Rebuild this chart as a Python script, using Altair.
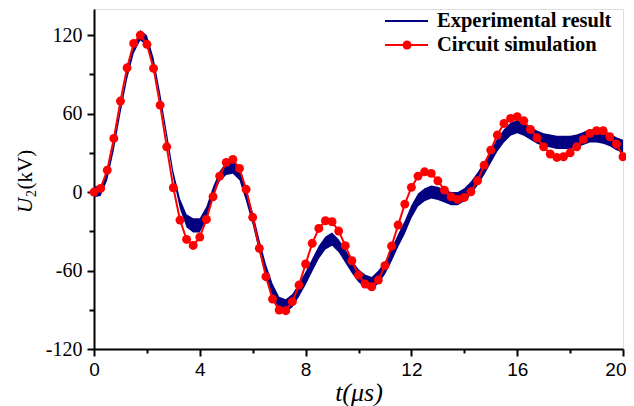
import altair as alt
import pandas as pd

# time grid (µs)
t_grid = [round(0.25 * i, 2) for i in range(81)]

# Circuit simulation (kV), read at each marker
u_sim = [0, 2.8, 16.8, 41, 69.6, 95, 113.7, 120, 113, 94.6,
         66.5, 34.6, 3.3, -21.4, -36.2, -40.8, -34.4, -20.9, -3.6, 12.2,
         22.7, 25, 18.1, 2.1, -19.3, -43, -64.7, -81.8, -90.2, -90.7,
         -83.8, -71.1, -55, -39.2, -27.8, -21.9, -22.7, -29.8, -41, -52.5,
         -63.5, -70.3, -72.4, -67.3, -56.3, -41.3, -25.2, -9.2, 3.6, 12.2,
         15.5, 14.3, 8.6, 1.5, -3.6, -5.6, -4.1, 0.2, 8.6, 20.6,
         32.1, 43.6, 52.5, 56.3, 57.6, 54.5, 47.9, 41.5, 34.6, 29.1,
         26.5, 27, 30, 34.6, 40.3, 44.9, 46.9, 46.9, 42.3, 36.7, 27]

# Experimental result: upper / lower edge of the noisy trace (kV)
exp_upper = [4, 5, 15, 38, 66, 92, 112, 124, 120, 103,
             76, 46, 16, -5, -17, -20, -20, -11, 4, 16,
             23, 24, 19, 3, -15, -36, -55, -70, -80, -82,
             -78, -70, -61, -51, -41, -34, -31, -36, -44, -52,
             -59, -63, -65, -60, -53, -43, -32, -22, -10, -1,
             3, 5, 4, 2, 0, 0, 3, 8, 15, 23,
             32, 41, 48, 53, 55, 53, 50, 47, 45, 44,
             43, 43, 43, 44, 46, 48, 48, 47, 45, 42, 40]
exp_lower = [-4, -3, 9, 32, 60, 86, 106, 116, 112, 97,
             70, 40, 10, -13, -27, -31, -31, -21, -4, 8,
             13, 14, 9, -7, -25, -46, -65, -80, -90, -92,
             -88, -80, -71, -61, -51, -44, -41, -46, -54, -62,
             -69, -73, -75, -70, -63, -53, -42, -32, -20, -11,
             -7, -5, -6, -8, -10, -10, -7, -2, 5, 13,
             22, 31, 38, 43, 45, 43, 40, 37, 35, 34,
             33, 33, 33, 34, 36, 38, 38, 37, 35, 32, 30]

x_ticks = list(range(0, 21, 2))
y_ticks = list(range(-120, 121, 30))

NAVY = "#000080"
RED = "#ff0000"

sim_df = pd.DataFrame({"t": t_grid, "u": u_sim})
exp_df = pd.DataFrame({"t": t_grid, "hi": exp_upper, "lo": exp_lower})

xscale = alt.Scale(domain=[0, 20], nice=False, zero=False)
yscale = alt.Scale(domain=[-120, 140], nice=False, zero=False)

xaxis = alt.Axis(
    values=x_ticks,
    labelExpr="datum.value % 4 === 0 ? toString(datum.value) : ''",
    labelAlign={"condition": {"test": "datum.value === 20", "value": "right"}, "value": "center"},
    labelOffset={"condition": {"test": "datum.value === 20", "value": 3}, "value": 0},
    tickSize={"condition": {"test": "datum.value % 4 === 0", "value": 7}, "value": 4},
    tickWidth=2, domainWidth=2, domainColor="black", tickColor="black",
    labelColor="black", labelFont="Liberation Sans", labelFontSize=19,
    labelPadding=4, labelFlush=False, labelOverlap=False,
    title="t(μs)", titleFont="Liberation Serif", titleFontStyle="italic",
    titleFontWeight="normal", titleFontSize=26, titleColor="black",
    titlePadding=0, grid=False,
)
yaxis = alt.Axis(
    values=y_ticks,
    labelExpr="datum.value % 60 === 0 ? toString(datum.value) : ''",
    tickSize={"condition": {"test": "datum.value % 60 === 0", "value": 7}, "value": 5},
    tickWidth=2, domainWidth=2, domainColor="black", tickColor="black",
    labelColor="black", labelFont="Liberation Serif", labelFontSize=20,
    labelPadding=5, labelFlush=False, labelOverlap=False,
    title=None, grid=False,
)

band = alt.Chart(exp_df).mark_area(color=NAVY, opacity=1, interpolate="linear").encode(
    x=alt.X("t:Q", scale=xscale, axis=xaxis),
    y=alt.Y("hi:Q", scale=yscale, axis=yaxis),
    y2="lo:Q",
)

sim_line = alt.Chart(sim_df).mark_line(color=RED, strokeWidth=2).encode(
    x=alt.X("t:Q", scale=xscale),
    y=alt.Y("u:Q", scale=yscale),
)
sim_pts = alt.Chart(sim_df).mark_point(filled=True, size=80, color=RED, opacity=1).encode(
    x=alt.X("t:Q", scale=xscale),
    y=alt.Y("u:Q", scale=yscale),
)

one = pd.DataFrame({"k": [0]})

# legend
leg_exp_line = alt.Chart(one).mark_rule(color=NAVY, strokeWidth=2).encode(
    x=alt.value(291), x2=alt.value(334), y=alt.value(12))
leg_sim_line = alt.Chart(one).mark_rule(color=RED, strokeWidth=2).encode(
    x=alt.value(291), x2=alt.value(334), y=alt.value(36))
leg_sim_dot = alt.Chart(one).mark_point(filled=True, size=80, color=RED, opacity=1).encode(
    x=alt.value(313), y=alt.value(36))
leg_txt = alt.Chart(pd.DataFrame({"s": ["Experimental result", "Circuit simulation"],
                                  "yy": [12, 36]})).mark_text(
    font="Liberation Serif", fontWeight="bold", fontSize=20.5, align="left",
    baseline="middle", color="black").encode(
    x=alt.value(343), y=alt.Y("yy:Q", scale=None), text="s:N")

# y-axis title: italic U, subscript 2, (kV)
yt_u = alt.Chart(pd.DataFrame({"s": ["U"]})).mark_text(
    font="Liberation Serif", fontStyle="italic", fontSize=21, angle=270,
    align="left", baseline="alphabetic", color="black").encode(
    x=alt.value(-62), y=alt.value(204), text="s:N")
yt_2 = alt.Chart(pd.DataFrame({"s": ["2"]})).mark_text(
    font="Liberation Serif", fontSize=14, angle=270,
    align="left", baseline="alphabetic", color="black").encode(
    x=alt.value(-58), y=alt.value(188), text="s:N")
yt_kv = alt.Chart(pd.DataFrame({"s": ["(kV)"]})).mark_text(
    font="Liberation Serif", fontSize=21, angle=270,
    align="left", baseline="alphabetic", color="black").encode(
    x=alt.value(-62), y=alt.value(180.5), text="s:N")

chart = alt.layer(
    band, sim_line, sim_pts,
    leg_exp_line, leg_sim_line, leg_sim_dot, leg_txt,
    yt_u, yt_2, yt_kv,
).properties(
    width=529, height=340,
    autosize=alt.AutoSizeParams(type="none"),
    padding={"left": 86, "top": 1, "right": 3, "bottom": 57},
).configure_view(stroke=None).configure(background="white")

chart.save("out.html", embed_options={"renderer": "svg", "actions": False})
